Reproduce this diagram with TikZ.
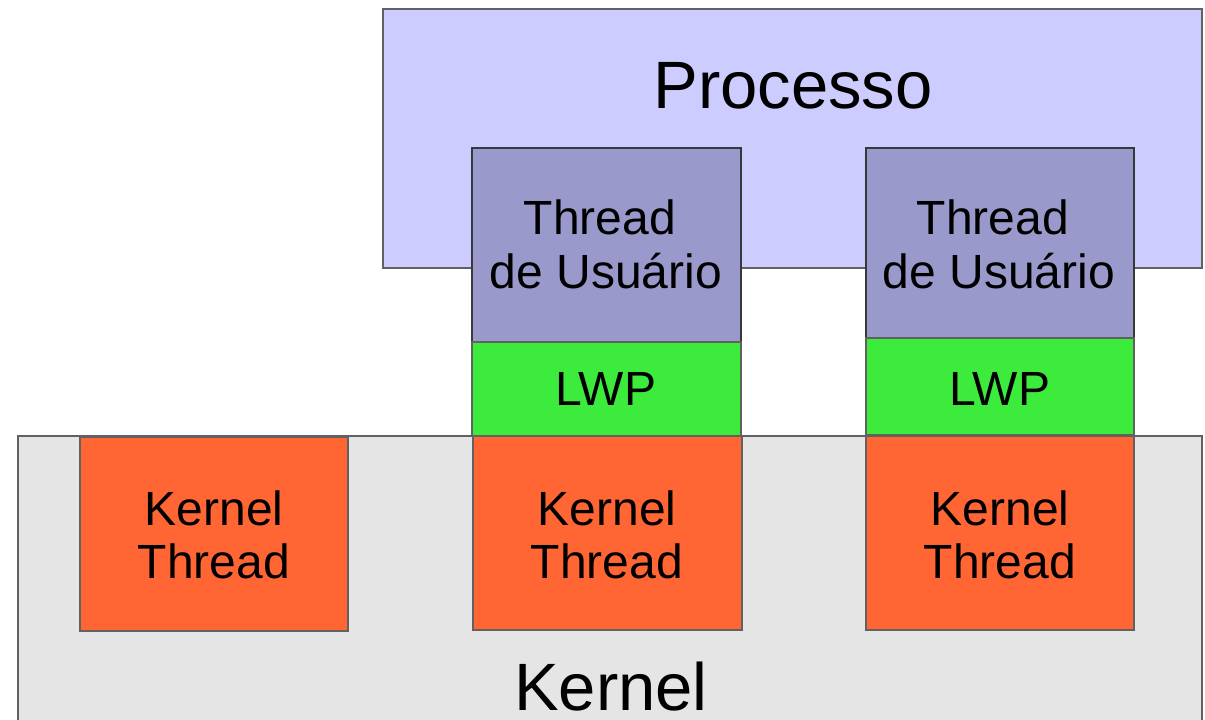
\documentclass[tikz,border=0pt]{standalone}
\usepackage{fontspec}
\setmainfont{Liberation Sans}
\begin{document}
\begin{tikzpicture}[x=1pt,y=-1pt,
  box/.style={draw=black!62, line width=2pt, inner sep=0pt, outer sep=0pt, anchor=north west},
  big/.style={font=\fontsize{67}{70}\selectfont, anchor=base, inner sep=0pt},
  small/.style={font=\fontsize{48}{53}\selectfont, anchor=base, inner sep=0pt},
  proc/.style={box, fill={rgb,255:red,204;green,204;blue,255}},
  uthr/.style={box, draw=black!78, fill={rgb,255:red,153;green,153;blue,204}},
  lwpbox/.style={box, fill={rgb,255:red,61;green,235;blue,61}},
  kthr/.style={box, fill={rgb,255:red,255;green,102;blue,51}},
  kern/.style={box, fill={rgb,255:red,229;green,229;blue,229}}]
\useasboundingbox (0,0) rectangle (1205,720);
\clip (0,0) rectangle (1205,720);

% process area and kernel area
\node[proc, minimum width=819pt, minimum height=259pt] (proc) at (383,9) {};
\node[kern, minimum width=1184pt, minimum height=300pt] (kern) at (18,436) {};
\node[big] (proclbl) at (793,108) {Processo};
\node[big, text depth=0pt] (kernlbl) at (611,710) {Kernel};

% first stack: user thread, LWP, kernel thread
\node[uthr, minimum width=269pt, minimum height=194pt] (u1) at (472,148) {};
\node[lwpbox, minimum width=269pt, minimum height=94pt] (l1) at (472,342) {};
\node[kthr, minimum width=269pt, minimum height=194pt] (k2) at (473,436) {};

% second stack
\node[uthr, minimum width=268pt, minimum height=190pt] (u2) at (866,148) {};
\node[lwpbox, minimum width=268pt, minimum height=97pt] (l2) at (866,338) {};
\node[kthr, minimum width=268pt, minimum height=194pt] (k3) at (866,436) {};

% kernel thread without LWP
\node[kthr, minimum width=268pt, minimum height=194pt] (k1) at (80,437) {};

% labels
\node[small] (u1a) at (600,234) {Thread};
\node[small] (u1b) at (606,288) {de Usuário};
\node[small] (u2a) at (993,234) {Thread};
\node[small] (u2b) at (999,288) {de Usuário};
\node[small] (l1t) at (606,405) {LWP};
\node[small] (l2t) at (1000,405) {LWP};
\node[small] (k1a) at (214,525) {Kernel};
\node[small] (k1b) at (214,578) {Thread};
\node[small] (k2a) at (607,525) {Kernel};
\node[small] (k2b) at (607,578) {Thread};
\node[small] (k3a) at (1000,525) {Kernel};
\node[small] (k3b) at (1000,578) {Thread};
\end{tikzpicture}
\end{document}
